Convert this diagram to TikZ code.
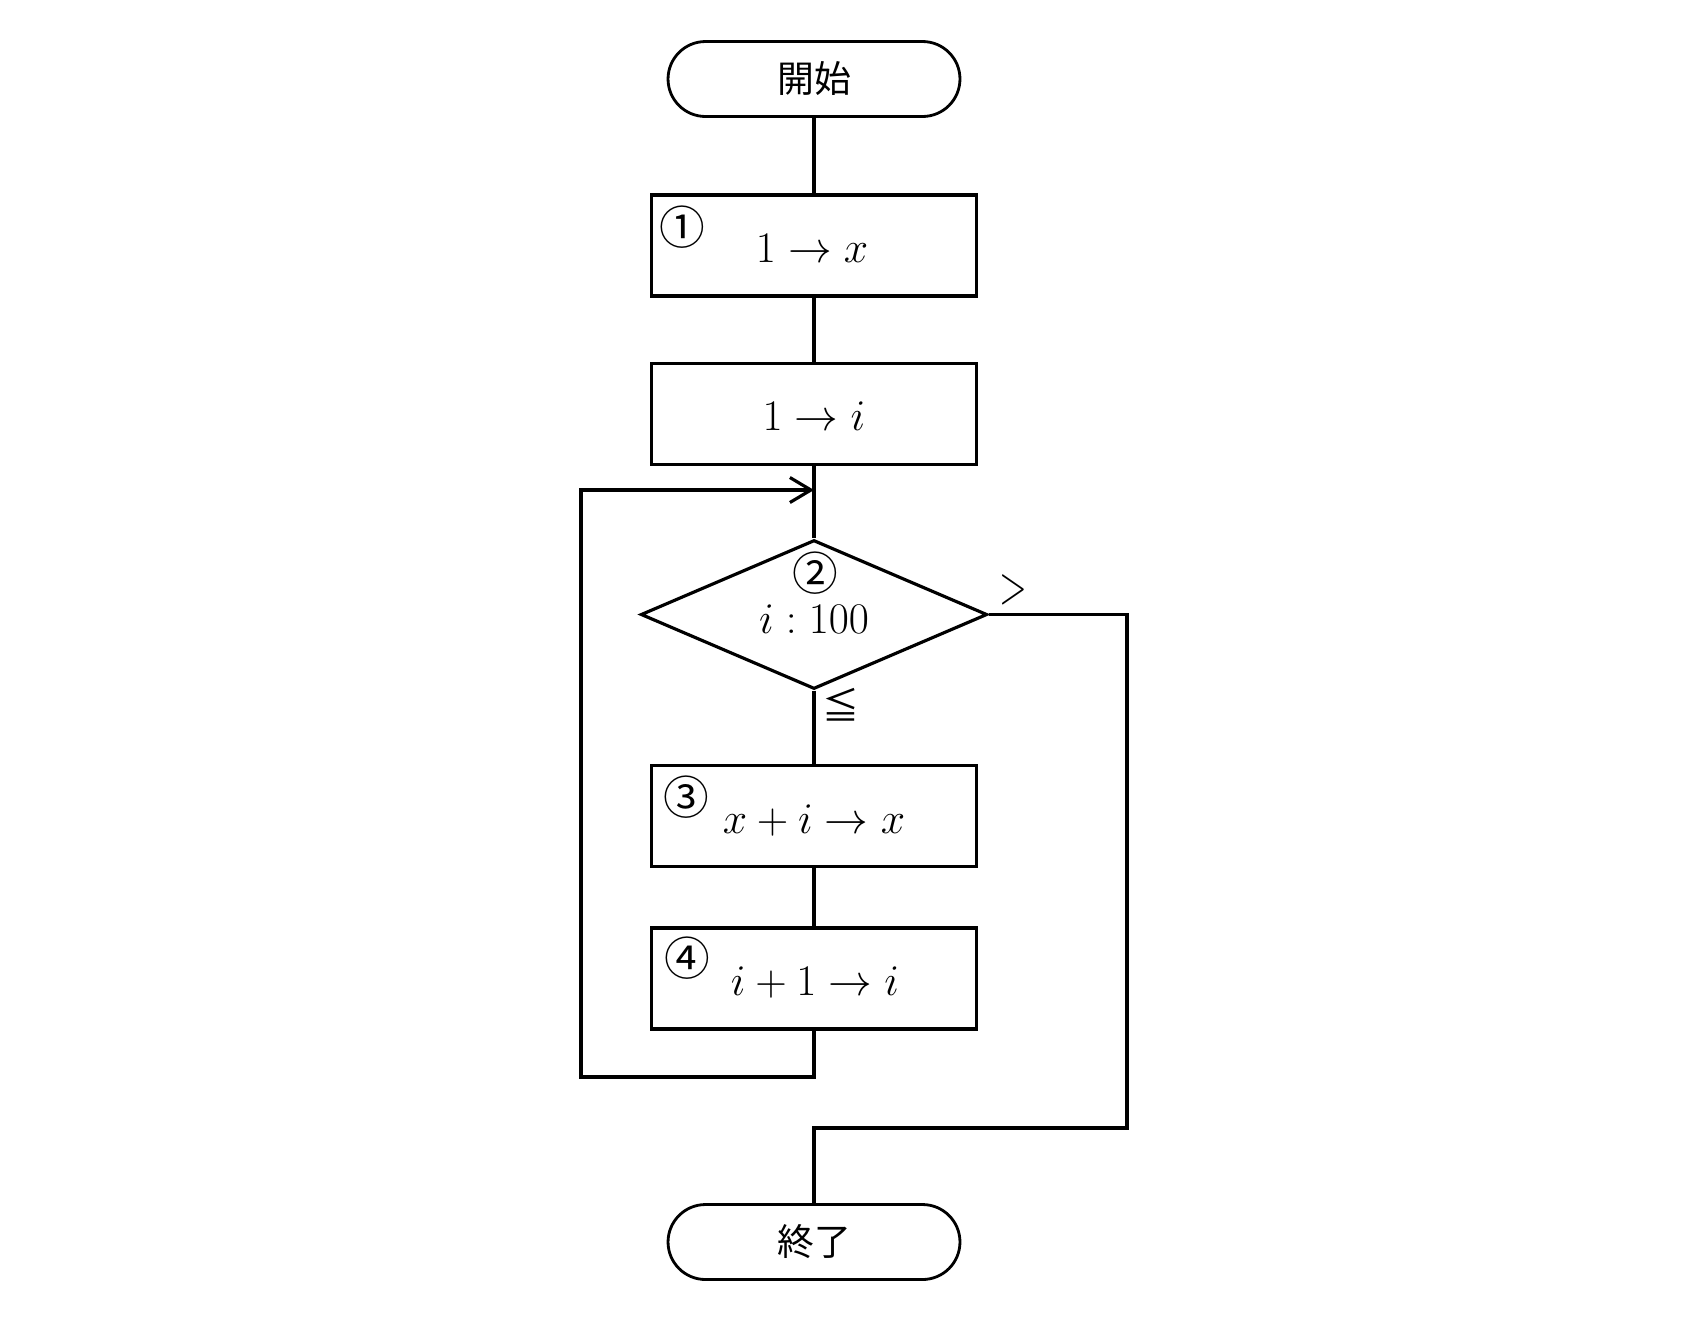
\documentclass[tikz,border=0pt]{standalone}
\usepackage{fontspec}
\newfontfamily\cjk{Noto Sans CJK JP}
\usetikzlibrary{shapes.geometric,arrows.meta}
\begin{document}
\begin{tikzpicture}[x=0.02cm,y=-0.02cm,
  line/.style={line width=1.8pt},
  term/.style={draw,line width=1.6pt,rectangle,rounded corners=0.75cm,minimum width=5.84cm,minimum height=1.5cm,inner sep=0pt,font=\cjk\fontsize{21}{21}\selectfont},
  proc/.style={draw,line width=1.8pt,rectangle,minimum width=6.5cm,minimum height=2.02cm,inner sep=0pt},
  dec/.style={draw,line width=1.8pt,diamond,aspect=2.33,minimum width=6.93cm,minimum height=2.98cm,inner sep=0pt},
  num/.style={inner sep=0pt,font=\cjk\fontsize{26}{26}\selectfont},
  expr/.style={inner sep=0pt,anchor=base,font=\fontsize{24}{24}\selectfont},
  cond/.style={inner sep=0pt,font=\fontsize{22}{22}\selectfont}]
\useasboundingbox (0,0) rectangle (1696,1320);
% nodes
\node[term] (start) at (814,79) {開始};
\node[proc] (b1) at (814,245.5) {};
\node[proc] (b2) at (814,414) {};
\node[dec]  (d)  at (814,614.5) {};
\node[proc] (b3) at (814,816) {};
\node[proc] (b4) at (814,978.5) {};
\node[term] (end) at (814,1242) {終了};
% texts
\node[num] (c1) at (682,227) {①};
\node[expr] (t1) at (812,262) {$1 \to x$};
\node[expr] (t2) at (814,430) {$1 \to i$};
\node[num] (c2) at (815,573) {②};
\node[expr] (td) at (814,633) {$i \mathrel{:} 100$};
\node[num] (c3) at (686,797) {③};
\node[expr] (t3) at (814,833) {$x + i \to x$};
\node[num] (c4) at (687,958) {④};
\node[expr] (t4) at (815,995) {$i + 1 \to i$};
\node[cond,font=\cjk\fontsize{21}{21}\selectfont] (le) at (841,705) {≦};
\node[cond] (gt) at (1013,590) {\scalebox{1.0}[1.5]{$>$}};
% coordinates
\coordinate (j)  at (814,490);
\coordinate (lp) at (581,1077);
\coordinate (r1) at (1127,1128);
% connectors
\draw[line] (start.south) -- (b1.north);
\draw[line] (b1.south) -- (b2.north);
\draw[line] (b2.south) -- (d.north);
\draw[line] (d.south) -- (b3.north);
\draw[line] (b3.south) -- (b4.north);
\draw[line,-{Straight Barb[length=0.42cm,width=0.5cm]}] (b4.south) |- (lp) |- (j);
\draw[line] (d.east) -| (r1) -| (end.north);
\end{tikzpicture}
\end{document}
